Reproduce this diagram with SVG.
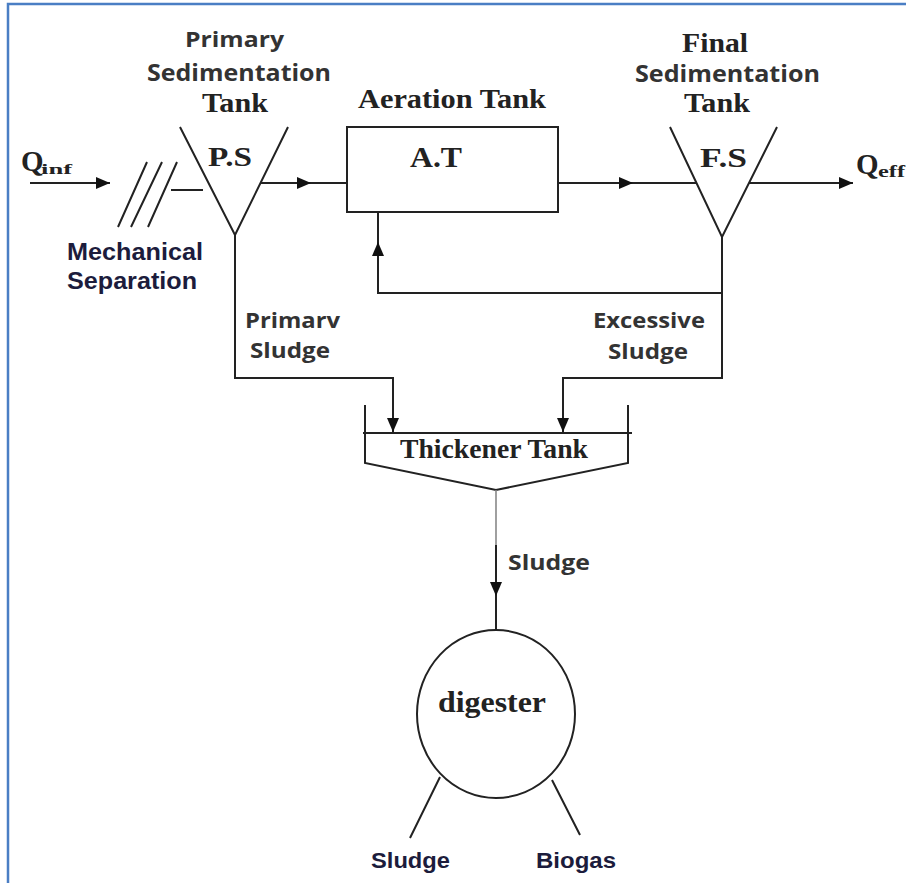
<svg xmlns="http://www.w3.org/2000/svg" width="906" height="883" viewBox="0 0 906 883">
<style>
.ln{fill:none;stroke:#222;stroke-width:2}
.ser{font-family:"Liberation Serif","Times New Roman",serif;font-weight:bold;fill:#222}
.sans{font-family:"Open Sans","Liberation Sans",sans-serif;font-weight:bold;fill:#333}
.ar{font-family:"Liberation Sans",Arial,sans-serif;font-weight:bold;fill:#1c1c3c}
</style>
<defs>
<marker id="ah" markerUnits="userSpaceOnUse" markerWidth="15" markerHeight="14" refX="14" refY="7" orient="auto">
<path d="M0,1 L14,7 L0,13 z" fill="#111"/>
</marker>
</defs>
<rect x="0" y="0" width="906" height="883" fill="#fff"/>
<path d="M8,883 L8,4 L906,4" fill="none" stroke="#4a7ec4" stroke-width="2.5"/>

<g id="inlet">
<text class="ser" x="21" y="171" font-size="29">Q<tspan x="41" y="174" font-size="15" textLength="31" lengthAdjust="spacingAndGlyphs">inf</tspan></text>
</g>

<g id="mechanical-separation">
<path class="ln" d="M118,227 L147,162 M131,227 L162,162 M148,227 L177,162 M171,190 L203,190"/>
<text class="ar" x="67" y="260" font-size="24" textLength="136" lengthAdjust="spacingAndGlyphs">Mechanical</text>
<text class="ar" x="67" y="289" font-size="24" textLength="130" lengthAdjust="spacingAndGlyphs">Separation</text>
</g>

<g id="primary-sedimentation">
<path class="ln" d="M180,127 L235,235 L288,127"/>
<text class="sans" x="185" y="47" font-size="21" textLength="99" lengthAdjust="spacingAndGlyphs">Primary</text>
<text class="sans" x="147" y="81" font-size="24" textLength="184" lengthAdjust="spacingAndGlyphs">Sedimentation</text>
<text class="ser" x="202" y="112" font-size="28" textLength="66" lengthAdjust="spacingAndGlyphs">Tank</text>
<text class="ser" x="208" y="166" font-size="28" textLength="44" lengthAdjust="spacingAndGlyphs">P.S</text>
</g>

<g id="aeration-tank">
<rect class="ln" x="347" y="127" width="211" height="85"/>
<text class="ser" x="358" y="108" font-size="28" textLength="188" lengthAdjust="spacingAndGlyphs">Aeration Tank</text>
<text class="ser" x="410" y="167" font-size="30" textLength="52" lengthAdjust="spacingAndGlyphs">A.T</text>
</g>

<g id="final-sedimentation">
<path class="ln" d="M670,127 L722,237 L777,127"/>
<text class="ser" x="682" y="52" font-size="28" textLength="66" lengthAdjust="spacingAndGlyphs">Final</text>
<text class="sans" x="635" y="82" font-size="24" textLength="185" lengthAdjust="spacingAndGlyphs">Sedimentation</text>
<text class="ser" x="684" y="112" font-size="28" textLength="66" lengthAdjust="spacingAndGlyphs">Tank</text>
<text class="ser" x="700" y="167" font-size="28" textLength="47" lengthAdjust="spacingAndGlyphs">F.S</text>
</g>

<g id="outlet">
<text class="ser" x="856" y="174" font-size="29">Q<tspan x="878" y="177" font-size="16" textLength="27" lengthAdjust="spacingAndGlyphs">eff</tspan></text>
</g>

<g id="thickener-tank">
<path class="ln" d="M363,433 L632,433"/>
<path class="ln" d="M365,405 L365,463 L496,490 L628,463 L628,405"/>
<text class="ser" x="400" y="458" font-size="27" textLength="188" lengthAdjust="spacingAndGlyphs">Thickener Tank</text>
</g>

<g id="digester">
<ellipse class="ln" cx="496" cy="714" rx="79" ry="84"/>
<text class="ser" x="438" y="712" font-size="30" textLength="108" lengthAdjust="spacingAndGlyphs">digester</text>
</g>

<g id="connectors">
<path class="ln" d="M30,183 L110,183" marker-end="url(#ah)"/>
<path class="ln" d="M261,183 L347,183"/>
<path class="ln" d="M290,183 L311,183" marker-end="url(#ah)"/>
<path class="ln" d="M558,183 L697,183"/>
<path class="ln" d="M600,183 L633,183" marker-end="url(#ah)"/>
<path class="ln" d="M749,183 L853,183" marker-end="url(#ah)"/>
<path class="ln" d="M722,237 L722,293 L378,293 L378,212"/>
<path class="ln" d="M378,270 L378,242" marker-end="url(#ah)"/>
<path class="ln" d="M235,235 L235,378 L393,378 L393,432" marker-end="url(#ah)"/>
<path class="ln" d="M722,293 L722,378 L563,378 L563,432" marker-end="url(#ah)"/>
<path d="M496,490 L496,545" fill="none" stroke="#888" stroke-width="1.6"/>
<path class="ln" d="M496,545 L496,630"/>
<path class="ln" d="M496,560 L496,596" marker-end="url(#ah)"/>
<path class="ln" d="M440,777 L410,838 M552,780 L580,835" stroke-width="1.6"/>
</g>

<g id="labels">
<text class="sans" x="245" y="328" font-size="21" textLength="95" lengthAdjust="spacingAndGlyphs">Primarv</text>
<text class="sans" x="250" y="358" font-size="21" textLength="80" lengthAdjust="spacingAndGlyphs">Sludge</text>
<text class="sans" x="593" y="328" font-size="21" textLength="112" lengthAdjust="spacingAndGlyphs">Excessive</text>
<text class="sans" x="608" y="359" font-size="21" textLength="80" lengthAdjust="spacingAndGlyphs">Sludge</text>
<text class="sans" x="508" y="570" font-size="21" textLength="82" lengthAdjust="spacingAndGlyphs">Sludge</text>
<text class="ar" x="371" y="868" font-size="22" textLength="79" lengthAdjust="spacingAndGlyphs">Sludge</text>
<text class="ar" x="536" y="868" font-size="22" textLength="80" lengthAdjust="spacingAndGlyphs">Biogas</text>
</g>
</svg>
